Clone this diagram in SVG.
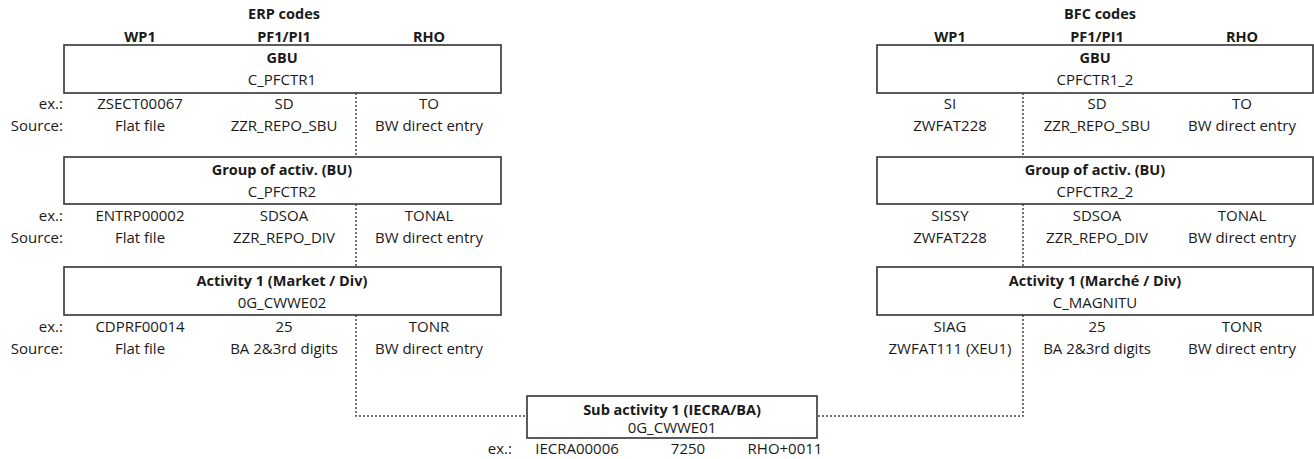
<svg xmlns="http://www.w3.org/2000/svg" width="1314" height="459" viewBox="0 0 1314 459">
<style>
text{font-family:"Open Sans","Liberation Sans",sans-serif;font-size:15px;fill:#1a1a1a;text-anchor:middle}
.b{font-weight:bold;font-size:14.5px}
.r{text-anchor:end}
.box{fill:#fff;stroke:#333;stroke-width:1.6}
.dot{fill:none;stroke:#444;stroke-width:1.5;stroke-dasharray:2 2}
</style>
<rect width="1314" height="459" fill="#fff"/>
<g id="connectors">
<path class="dot" d="M356 93V157M356 204V267M356 315V416H527"/>
<path class="dot" d="M1023 93V157M1023 204V267M1023 315V416H817"/>
</g>
<g id="erp-header">
<text class="b" x="284" y="19">ERP codes</text>
<text class="b" x="140" y="42">WP1</text>
<text class="b" x="284" y="42">PF1/PI1</text>
<text class="b" x="429" y="42">RHO</text>
</g>
<g id="erp-gbu">
<rect class="box" x="64" y="45" width="437" height="48"/>
<text class="b" x="282" y="63">GBU</text>
<text x="282" y="85">C_PFCTR1</text>
<text class="r" x="63" y="109">ex.:</text>
<text class="r" x="63" y="131">Source:</text>
<text x="140" y="109">ZSECT00067</text>
<text x="284" y="109">SD</text>
<text x="429" y="109">TO</text>
<text x="140" y="131">Flat file</text>
<text x="284" y="131">ZZR_REPO_SBU</text>
<text x="429" y="131">BW direct entry</text>
</g>
<g id="erp-bu">
<rect class="box" x="64" y="157" width="437" height="47"/>
<text class="b" x="282" y="175">Group of activ. (BU)</text>
<text x="282" y="197">C_PFCTR2</text>
<text class="r" x="63" y="221">ex.:</text>
<text class="r" x="63" y="243">Source:</text>
<text x="140" y="221">ENTRP00002</text>
<text x="284" y="221">SDSOA</text>
<text x="429" y="221">TONAL</text>
<text x="140" y="243">Flat file</text>
<text x="284" y="243">ZZR_REPO_DIV</text>
<text x="429" y="243">BW direct entry</text>
</g>
<g id="erp-activity">
<rect class="box" x="64" y="267" width="437" height="48"/>
<text class="b" x="282" y="286">Activity 1 (Market / Div)</text>
<text x="282" y="308">0G_CWWE02</text>
<text class="r" x="63" y="332">ex.:</text>
<text class="r" x="63" y="354">Source:</text>
<text x="140" y="332">CDPRF00014</text>
<text x="284" y="332">25</text>
<text x="429" y="332">TONR</text>
<text x="140" y="354">Flat file</text>
<text x="284" y="354">BA 2&amp;3rd digits</text>
<text x="429" y="354">BW direct entry</text>
</g>
<g id="bfc-header">
<text class="b" x="1100" y="19">BFC codes</text>
<text class="b" x="950" y="42">WP1</text>
<text class="b" x="1097" y="42">PF1/PI1</text>
<text class="b" x="1242" y="42">RHO</text>
</g>
<g id="bfc-gbu">
<rect class="box" x="877" y="45" width="436" height="48"/>
<text class="b" x="1095" y="63">GBU</text>
<text x="1095" y="85">CPFCTR1_2</text>
<text x="950" y="109">SI</text>
<text x="1097" y="109">SD</text>
<text x="1242" y="109">TO</text>
<text x="950" y="131">ZWFAT228</text>
<text x="1097" y="131">ZZR_REPO_SBU</text>
<text x="1242" y="131">BW direct entry</text>
</g>
<g id="bfc-bu">
<rect class="box" x="877" y="157" width="436" height="47"/>
<text class="b" x="1095" y="175">Group of activ. (BU)</text>
<text x="1095" y="197">CPFCTR2_2</text>
<text x="950" y="221">SISSY</text>
<text x="1097" y="221">SDSOA</text>
<text x="1242" y="221">TONAL</text>
<text x="950" y="243">ZWFAT228</text>
<text x="1097" y="243">ZZR_REPO_DIV</text>
<text x="1242" y="243">BW direct entry</text>
</g>
<g id="bfc-activity">
<rect class="box" x="877" y="267" width="436" height="48"/>
<text class="b" x="1095" y="286">Activity 1 (Marché / Div)</text>
<text x="1095" y="308">C_MAGNITU</text>
<text x="950" y="332">SIAG</text>
<text x="1097" y="332">25</text>
<text x="1242" y="332">TONR</text>
<text x="950" y="354">ZWFAT111 (XEU1)</text>
<text x="1097" y="354">BA 2&amp;3rd digits</text>
<text x="1242" y="354">BW direct entry</text>
</g>
<g id="sub-activity">
<rect class="box" x="527" y="396" width="290" height="42"/>
<text class="b" x="672" y="415">Sub activity 1 (IECRA/BA)</text>
<text x="672" y="433">0G_CWWE01</text>
<text class="r" x="512" y="454">ex.:</text>
<text x="577" y="454">IECRA00006</text>
<text x="688" y="454">7250</text>
<text x="785" y="454">RHO+0011</text>
</g>
</svg>
